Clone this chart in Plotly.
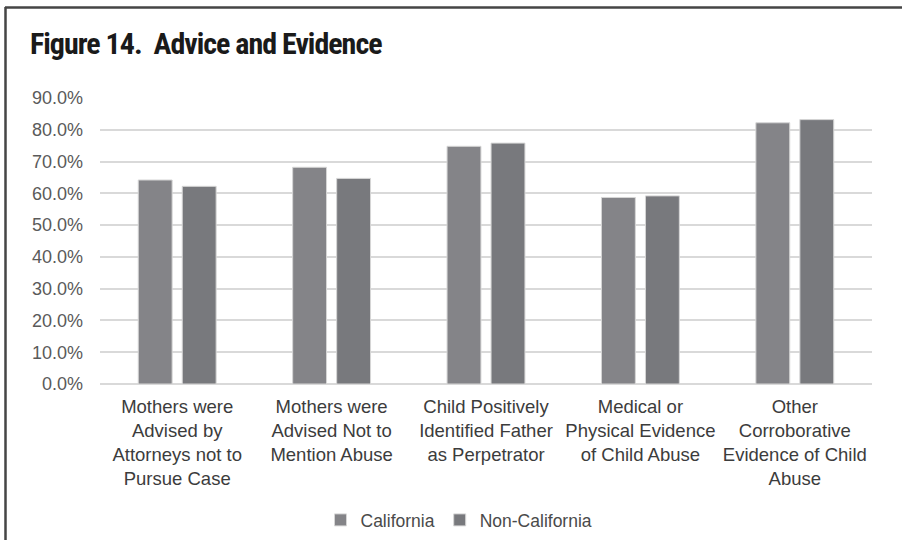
import plotly.graph_objects as go

categories = [
    "Mothers were<br>Advised by<br>Attorneys not to<br>Pursue Case",
    "Mothers were<br>Advised Not to<br>Mention Abuse",
    "Child Positively<br>Identified Father<br>as Perpetrator",
    "Medical or<br>Physical Evidence<br>of Child Abuse",
    "Other<br>Corroborative<br>Evidence of Child<br>Abuse",
]
california = [64.2, 68.2, 74.8, 58.7, 82.2]
non_california = [62.2, 64.7, 75.8, 59.2, 83.2]
y_ticks = [0, 10, 20, 30, 40, 50, 60, 70, 80, 90]
y_tick_labels = [f"{v:.1f}%" for v in y_ticks]

W, H = 902, 540
L, R, T, B = 100, 30, 98, 156
plot_w = W - L - R
plot_h = H - T - B


def px_to_paper_x(px):
    return (px - L) / plot_w


def px_to_paper_y(py):
    return (H - B - py) / plot_h


fig = go.Figure()
fig.add_trace(go.Bar(
    name="California", x=categories, y=california,
    marker=dict(color="#848488", line=dict(color="#d6d6d6", width=1)),
))
fig.add_trace(go.Bar(
    name="Non-California", x=categories, y=non_california,
    marker=dict(color="#78797d", line=dict(color="#d6d6d6", width=1)),
))

# frame: top rule and left rule of the figure box
fig.add_shape(type="line", xref="paper", yref="paper",
              x0=px_to_paper_x(5), x1=px_to_paper_x(W + 5),
              y0=px_to_paper_y(7.5), y1=px_to_paper_y(7.5),
              line=dict(color="#454545", width=2.5))
fig.add_shape(type="line", xref="paper", yref="paper",
              x0=px_to_paper_x(5.5), x1=px_to_paper_x(5.5),
              y0=px_to_paper_y(7), y1=px_to_paper_y(H + 5),
              line=dict(color="#454545", width=2.5))

title_text = (
    "<span style=\"letter-spacing:-1px\">Figure 14.  Advice and Evidence</span>"
)

fig.update_layout(
    width=W, height=H,
    margin=dict(l=L, r=R, t=T, b=B, autoexpand=False),
    paper_bgcolor="white", plot_bgcolor="white",
    barmode="group", bargap=0.43, bargroupgap=0.23,
    title=dict(
        text=title_text,
        x=30 / W, xref="container", xanchor="left",
        y=1 - 54 / H, yref="container", yanchor="bottom",
        font=dict(family="Roboto Condensed, Liberation Sans Narrow, Roboto, sans-serif",
                  size=30, color="#1a1a1a", weight=700),
    ),
    font=dict(family="Liberation Sans, Arial, sans-serif", color="#404040"),
    xaxis=dict(
        tickfont=dict(size=18.5, color="#3c3c3c"),
        showline=False, ticks="", showgrid=False,
        ticklabelstandoff=9, automargin=False,
    ),
    yaxis=dict(
        range=[0, 90], tickvals=y_ticks, ticktext=y_tick_labels,
        tickfont=dict(size=18, color="#5a5a5a"),
        showgrid=True, gridcolor="#d9d9d9", gridwidth=1.5,
        zeroline=True, zerolinecolor="#d9d9d9", zerolinewidth=1.5,
        ticks="", ticklen=0, showline=False,
        ticklabelstandoff=16, automargin=False,
    ),
    legend=dict(
        orientation="h", x=px_to_paper_x(459), xanchor="center",
        y=px_to_paper_y(502), yanchor="top",
        font=dict(size=17.5, color="#4a4a4a"),
        traceorder="normal",
    ),
)

fig.write_html("out.html")
